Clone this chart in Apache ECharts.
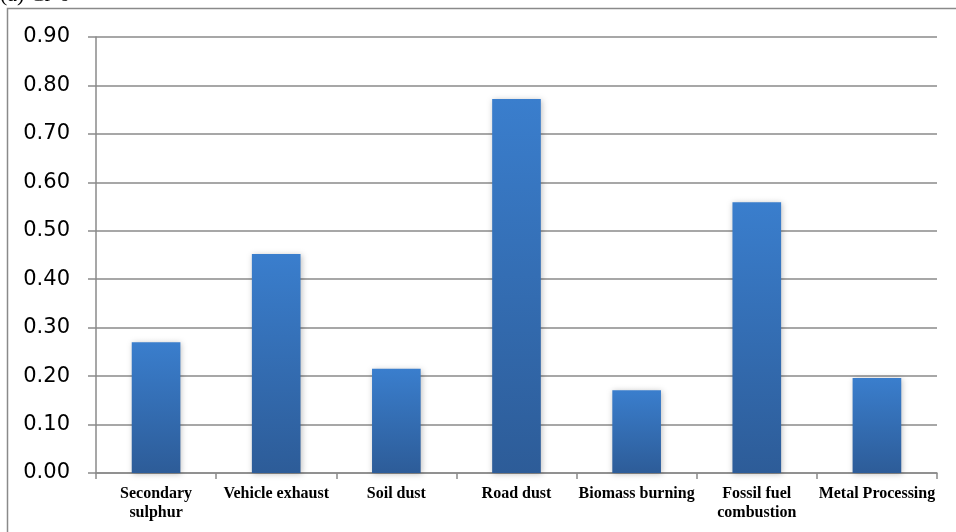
<!DOCTYPE html>
<html><head><meta charset="utf-8">
<script src="https://cdn.jsdelivr.net/npm/echarts@6/dist/echarts.min.js"></script>
<style>html,body{margin:0;padding:0;background:#fff}#c{width:956px;height:532px}</style>
</head><body><div id="c"></div>
<script>
const categories = ['Secondary\nsulphur','Vehicle exhaust','Soil dust','Road dust','Biomass burning','Fossil fuel\ncombustion','Metal Processing'];
const values = [0.270, 0.452, 0.215, 0.772, 0.171, 0.559, 0.196];
const yMin = 0, yMax = 0.9, yStep = 0.1;
const titleText = '(a) Cr-6+';

const chart = echarts.init(document.getElementById('c'), null, {renderer:'canvas'});
chart.setOption({
  animation:false,
  backgroundColor:'#fff',
  graphic:[
    {type:'polyline', silent:true, shape:{points:[[7.5,532],[7.5,8.5],[956,8.5]]}, style:{stroke:'#8a8a8a', lineWidth:1.5, fill:null}},
    {type:'text', left:0, top:-16, style:{text:titleText, font:'22px "Liberation Serif"', fill:'#000'}}
  ],
  grid:{left:96, right:19, top:37, bottom:59, containLabel:false},
  xAxis:{
    type:'category', data:categories,
    axisLine:{lineStyle:{color:'#8a8a8a', width:1.5}},
    axisTick:{show:true, alignWithLabel:false, length:6, lineStyle:{color:'#8a8a8a', width:1.5}},
    axisLabel:{interval:0, color:'#000', fontFamily:'Liberation Serif', fontWeight:'bold', fontSize:16, lineHeight:19, margin:11}
  },
  yAxis:{
    type:'value', min:yMin, max:yMax, interval:yStep,
    axisLine:{show:true, lineStyle:{color:'#8a8a8a', width:1.5}},
    axisTick:{show:true, length:8, lineStyle:{color:'#8a8a8a', width:1.5}},
    splitLine:{lineStyle:{color:'#8a8a8a', width:1.5}},
    axisLabel:{color:'#000', fontFamily:'DejaVu Sans', fontSize:21, margin:26, formatter:v=>v.toFixed(2)}
  },
  series:[{
    type:'bar', data:values, barWidth:'40.5%',
    itemStyle:{
      color:new echarts.graphic.LinearGradient(0,0,0,1,[{offset:0,color:'#3a7ecd'},{offset:1,color:'#2d5c98'}]),
      shadowColor:'rgba(0,0,0,0.25)', shadowBlur:6, shadowOffsetX:1, shadowOffsetY:1
    }
  }]
});
</script></body></html>
